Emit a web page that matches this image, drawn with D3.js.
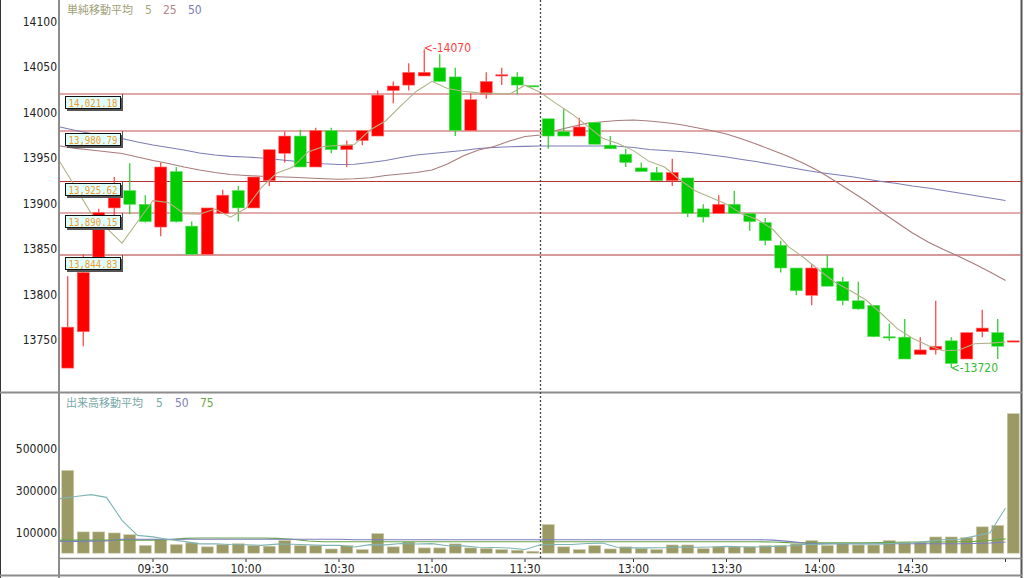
<!DOCTYPE html>
<html><head><meta charset="utf-8">
<script src="https://cdn.jsdelivr.net/npm/d3@7"></script>
<style>body{margin:0;background:#fff}svg{display:block}</style>
</head><body>
<svg id="c" width="1024" height="578"></svg>
<script>
// ---------- data ----------
const slots = ["09:00","09:05","09:10","09:15","09:20","09:25","09:30","09:35","09:40","09:45","09:50","09:55",
"10:00","10:05","10:10","10:15","10:20","10:25","10:30","10:35","10:40","10:45","10:50","10:55",
"11:00","11:05","11:10","11:15","11:20","11:25","11:30",
"12:30","12:35","12:40","12:45","12:50","12:55",
"13:00","13:05","13:10","13:15","13:20","13:25","13:30","13:35","13:40","13:45","13:50","13:55",
"14:00","14:05","14:10","14:15","14:20","14:25","14:30","14:35","14:40","14:45","14:50","14:55","15:00"];

const open  = [13720,13760,13842,13896,13915,13900,13875,13936,13876,13845,13890,13915,13896,13926,13956,13975,13941,13981,13960,13970,13975,14025,14031,14041,14050,14040,13981,14021,14042,14040,14030.4,
13994,13980,13975,13990,13965,13955,13940,13935,13926,13929,13895,13890,13900,13890,13880,13855,13830,13800,13830,13815,13794,13789,13754.5,13754,13735,13740,13750,13730,13760,13759,13749.6];
const high  = [13821,13845,13895,13930,13945,13910,13946,13941,13881,13896,13916,13920,13930,13960,13980,13982,13984,13984,13970,13981,14025,14035,14055,14070,14065,14050,14022,14045,14050,14045,14030.4,
13994,14005,13995,13990,13975,13961,13946,13941,13950,13929,13900,13910,13915,13890,13885,13860,13830,13834,13844,13820,13815,13789,13769,13774,13754,13794,13754,13759,13784,13774,13750];
const low   = [13720,13744,13842,13883,13889,13880,13865,13880,13845,13845,13890,13881,13896,13920,13946,13941,13941,13956,13941,13965,13975,14011,14025,14041,14035,13975,13981,14016,14031,14021,14030,
13961,13975,13975,13966,13961,13941,13936,13926,13920,13886,13880,13890,13890,13871,13855,13825,13800,13789,13810,13789,13784,13754,13750,13730,13735,13735,13720,13730,13754,13730,13749.6];
const close = [13765,13825,13891,13907,13900,13881,13941,13881,13845,13896,13910,13896,13930,13960,13975,13941,13981,13960,13965,13981,14020,14030,14045,14045,14035,13981,14015,14035,14042.4,14031,14030,
13975,13975,13985,13966,13961,13946,13936,13926,13935,13890,13886,13900,13890,13881,13860,13830,13805,13830,13810,13794,13785,13754.5,13754,13730,13740,13744,13725,13759,13764,13744,13750];

const ma5  = [13946.5,13918.5,13890.4,13874,13857.4,13880.8,13904,13902,13889.8,13889,13894.8,13885.8,13895.6,13918.5,13934.3,13940.6,13957.6,13963.6,13964.6,13965.8,13981.7,13991.6,14008.5,14024.3,14035.1,14027.3,14024.3,14022.5,14021.9,14021.1,14030.9,
14022.9,14010.9,13999.6,13986.5,13972.7,13966.9,13959,13947.2,13941,13926.7,13914.7,13907.4,13900.2,13889.4,13883.3,13872.3,13853.4,13841.3,13827.3,13814.3,13805,13794.8,13779.7,13763.6,13752.8,13744.8,13739,13739.9,13746.7,13747.5,13748.7];
const ma25 = [13964.1,13961.5,13959.7,13957.8,13955.8,13952,13948.1,13944.8,13941,13937.7,13934.9,13932.7,13931.6,13930.8,13930.2,13929.7,13928.9,13928.1,13927.5,13928,13929.2,13931.6,13933.3,13934.9,13937.7,13944.3,13953.1,13959.7,13963.5,13969.6,13974.5,
13976.2,13981.1,13985.3,13989,13990.7,13992.1,13992.6,13991.5,13989.9,13987.7,13984.4,13981.1,13977.3,13971.8,13965.7,13959.1,13952.5,13944.8,13936,13925.6,13914.6,13903.6,13891.5,13880,13868.5,13858.6,13850.3,13842.6,13834.4,13825.6,13816.3];
const ma50 = [13984.9,13981.1,13977.8,13975.1,13972.3,13968.5,13965.2,13962.4,13959.7,13956.4,13954.2,13952.7,13952,13950.9,13949.2,13947.6,13945.9,13944.5,13943.7,13944,13945.9,13948.1,13951.4,13954.2,13955.8,13957.5,13959.1,13961.3,13962.4,13963.2,13963.7,
13964.1,13964.1,13964.1,13964.1,13964.1,13963.8,13962.4,13960.2,13959.1,13958,13956.4,13954.2,13952,13949.2,13946.7,13943.7,13940.7,13937.7,13934.9,13932.7,13930.5,13927.8,13925.1,13922.9,13920.1,13917.9,13915.2,13912.4,13909.7,13906.9,13904.2];

const volume = [397000,105000,105000,100000,92000,41000,68000,45000,53000,34000,45000,49000,40000,37000,64000,40000,40000,24000,40000,21000,97000,34000,57000,29000,29000,48000,29000,26000,21000,18000,13000,
140000,34000,21000,40000,24000,34000,26000,21000,43000,43000,26000,34000,34000,34000,40000,40000,48000,64000,41000,49000,43000,43000,64000,56000,56000,81000,81000,78000,129000,136000,667000];
const volMa5  = [263000,273000,282000,269000,159800,88600,81200,69200,59800,48200,49000,45200,44200,41000,47000,46000,44200,41000,41600,33000,44400,43200,49800,47600,49200,39400,38400,32200,30600,28400,21400,
43600,45200,45200,49600,51800,30600,29000,29000,29600,33400,31800,33400,36000,34200,33600,36400,39200,45200,46600,48400,49000,48000,48000,51000,52400,60000,67600,70400,85000,101000,218200];
const volMa50 = [60000,60000,61000,62000,70000,70000,70000,70000,70000,70000,70000,70000,70000,70000,70000,70000,70000,70000,70000,68000,68000,68000,68000,68000,68000,68000,68000,68000,68000,68000,68000,
68000,68000,68000,68000,68000,68000,68000,68000,68000,68000,68000,68000,68000,68000,68000,66000,60000,52000,49000,49000,49000,49000,49000,49000,49000,49000,49000,49000,50000,52000,57000];
const volMa75 = [66000,66000,66000,66000,66000,66000,66000,68000,74000,76000,76000,76000,76000,76000,74000,70000,62000,58000,58000,58000,58000,58000,58000,58000,58000,58000,58000,58000,58000,58000,58000,
58000,58000,58000,58000,58000,58000,58000,58000,58000,58000,58000,58000,58000,58000,58000,57000,54000,53000,53000,53000,53000,53000,54000,56000,57000,57000,57000,58000,60000,64000,72000];

const levels = [14021.18, 13980.79, 13925.62, 13890.15, 13844.83];
const levelColors = ["#d98a8a","#d98a8a","#b83434","#d99090","#c87878"];
const priceTicks = [13750,13800,13850,13900,13950,14000,14050,14100];
const volTicks = [100000,300000,500000];
const xTickSlots = ["09:30","10:00","10:30","11:00","11:30","13:00","13:30","14:00","14:30","15:00"];
const xTickLabels = ["09:30","10:00","10:30","11:00","11:30","13:00","13:30","14:00","14:30",""];
const sessionBreak = "12:30";
const highMark = {slot:"10:55", value:14070, text:"<-14070"};
const lowMark  = {slot:"14:40", value:13720, text:"<-13720"};

// ---------- layout ----------
const svg = d3.select("#c");
const numFont = "'Liberation Sans Narrow','Arial Narrow','DejaVu Sans Condensed',sans-serif";
const cjkFont = "'Noto Sans CJK JP',sans-serif";
const x = d3.scaleBand().domain(slots).range([60,1021]).padding(0);
const bw = x.bandwidth();
const y = d3.scaleLinear().domain([13693.74,14124.51]).range([392,0]);
const yv = d3.scaleLinear().domain([0,700000]).range([554,554-700000*0.0002105]);
const cx = s => x(s) + bw/2;

svg.append("defs").append("clipPath").attr("id","mainClip")
  .append("rect").attr("x",60).attr("y",0).attr("width",961).attr("height",391);
svg.append("defs").append("clipPath").attr("id","volClip")
  .append("rect").attr("x",60).attr("y",394).attr("width",961).attr("height",163);

// frame
svg.append("line").attr("x1",0.5).attr("x2",0.5).attr("y1",0).attr("y2",578).attr("stroke","#333");
svg.append("line").attr("x1",59).attr("x2",59).attr("y1",0).attr("y2",578).attr("stroke","#8c8c8c").attr("stroke-width",2);
svg.append("line").attr("x1",1021.5).attr("x2",1021.5).attr("y1",0).attr("y2",578).attr("stroke","#555").attr("stroke-width",2);
svg.append("line").attr("x1",0).attr("x2",1022).attr("y1",392.5).attr("y2",392.5).attr("stroke","#8c8c8c").attr("stroke-width",2);
svg.append("line").attr("x1",59).attr("x2",1022).attr("y1",558.5).attr("y2",558.5).attr("stroke","#8c8c8c").attr("stroke-width",1.5);
svg.append("line").attr("x1",0).attr("x2",1022).attr("y1",575.5).attr("y2",575.5).attr("stroke","#8c8c8c").attr("stroke-width",2);

// y axis (price)
const ya = svg.append("g").attr("transform","translate(57,-1)")
  .call(d3.axisLeft(y).tickValues(priceTicks).tickSize(0).tickPadding(0).tickFormat(d3.format("d")));
ya.select(".domain").remove();
ya.selectAll("text").attr("font-family",numFont).attr("font-size",12).attr("fill","#222");

// y axis (volume)
const yva = svg.append("g").attr("transform","translate(57,0)")
  .call(d3.axisLeft(yv).tickValues(volTicks).tickSize(0).tickPadding(0).tickFormat(d3.format("d")));
yva.select(".domain").remove();
yva.selectAll("text").attr("font-family",numFont).attr("font-size",12).attr("fill","#222");

// x axis
const xa = svg.append("g").attr("transform","translate(0,559)")
  .call(d3.axisBottom(x).tickValues(xTickSlots).tickSize(3).tickPadding(2).tickFormat((d,i)=>xTickLabels[i]));
xa.select(".domain").remove();
xa.selectAll(".tick").attr("transform", d => `translate(${x(d)},0)`);
xa.selectAll("line").attr("stroke","#333");
xa.selectAll("text").attr("font-family",numFont).attr("font-size",12).attr("fill","#222").attr("y",5);

// level lines
const main = svg.append("g").attr("clip-path","url(#mainClip)");
main.selectAll("line.lvl").data(levels).join("line").attr("class","lvl")
  .attr("x1",60).attr("x2",1021)
  .attr("y1",(d,i)=> i===2 ? Math.round(y(d))+0.5 : Math.round(y(d)))
  .attr("y2",(d,i)=> i===2 ? Math.round(y(d))+0.5 : Math.round(y(d)))
  .attr("stroke",(d,i)=>levelColors[i]).attr("stroke-width",(d,i)=> i===2?1.2:1.6);

// session break
svg.append("line").attr("x1",x(sessionBreak)).attr("x2",x(sessionBreak)).attr("y1",0).attr("y2",558)
  .attr("stroke","#444").attr("stroke-width",1.3).attr("stroke-dasharray","2,2");

// moving averages (price)
const lineGen = arr => d3.line().x((d,i)=>x(slots[i])).y(d=>y(d))(arr);
main.append("path").attr("d",lineGen(ma50)).attr("fill","none").attr("stroke","#7c7cb4").attr("stroke-width",1.1);
main.append("path").attr("d",lineGen(ma25)).attr("fill","none").attr("stroke","#a87c7c").attr("stroke-width",1.1);

// candles
const up = i => close[i] >= open[i];
const cg = main.append("g");
cg.selectAll("line.wick").data(slots).join("line").attr("class","wick")
  .attr("x1",d=>cx(d)).attr("x2",d=>cx(d))
  .attr("y1",(d,i)=>y(high[i])).attr("y2",(d,i)=>y(low[i]))
  .attr("stroke",(d,i)=>up(i)?"#ff3a3a":"#22cc22").attr("stroke-width",1.2);
cg.selectAll("rect.body").data(slots).join("rect").attr("class","body")
  .attr("x",d=>x(d)+1.75).attr("width",12)
  .attr("y",(d,i)=>Math.min(y(open[i]),y(close[i])))
  .attr("height",(d,i)=>Math.max(1.3,Math.abs(y(open[i])-y(close[i]))))
  .attr("fill",(d,i)=>up(i)?"#ff0000":"#00cc00")
  .attr("stroke",(d,i)=>up(i)?"#ff7070":"#66dd66").attr("stroke-width",0.6);

main.append("path").attr("d",lineGen(ma5)).attr("fill","none").attr("stroke","#b2b28a").attr("stroke-width",1.1);

// level labels
const lg = svg.append("g");
levels.forEach(v=>{
  const ly = Math.round(y(v));
  lg.append("rect").attr("x",67).attr("y",ly+4).attr("width",56).attr("height",13).attr("fill","#555");
  lg.append("rect").attr("x",65.5).attr("y",ly+2.5).attr("width",55).attr("height",12).attr("fill","#dfffff").attr("stroke","#111").attr("stroke-width",1);
  lg.append("line").attr("x1",122.5).attr("x2",122.5).attr("y1",ly).attr("y2",ly+15).attr("stroke","#555").attr("stroke-width",1);
  lg.append("text").attr("x",68.5).attr("y",ly+12.5).text(d3.format(",.2f")(v))
    .attr("font-family","'DejaVu Sans Mono',monospace").attr("font-size",11)
    .attr("textLength",49).attr("lengthAdjust","spacingAndGlyphs").attr("fill","#f39a2a");
});

// high / low markers
svg.append("text").attr("x",cx(highMark.slot)-0.5).attr("y",y(highMark.value)-1).attr("dominant-baseline","middle")
  .attr("font-family",numFont).attr("font-size",12).attr("fill","#ff4040").text(highMark.text);
svg.append("text").attr("x",cx(lowMark.slot)-0.5).attr("y",y(lowMark.value)).attr("dominant-baseline","middle")
  .attr("font-family",numFont).attr("font-size",12).attr("fill","#33bb33").text(lowMark.text);

// legend main
const leg = svg.append("g").attr("font-family",cjkFont).attr("font-size",11);
leg.append("text").attr("x",67).attr("y",14).attr("fill","#a0a078").text("単純移動平均");
leg.append("text").attr("x",145).attr("y",14).attr("fill","#a8a878").attr("font-family",numFont).attr("font-size",12).text("5");
leg.append("text").attr("x",163).attr("y",14).attr("fill","#b08888").attr("font-family",numFont).attr("font-size",12).text("25");
leg.append("text").attr("x",188).attr("y",14).attr("fill","#7c7cb4").attr("font-family",numFont).attr("font-size",12).text("50");

// volume
const vg = svg.append("g").attr("clip-path","url(#volClip)");
vg.selectAll("rect.vol").data(slots).join("rect").attr("class","vol")
  .attr("x",d=>x(d)+1.75).attr("width",12)
  .attr("y",(d,i)=>yv(volume[i])).attr("height",(d,i)=>yv(0)-yv(volume[i]) - 0.8)
  .attr("fill","#9b9964").attr("stroke","#cfcdb0").attr("stroke-width",0.6);
const vline = arr => d3.line().x((d,i)=>x(slots[i])).y(d=>yv(d))(arr);
vg.append("path").attr("d",vline(volMa75)).attr("fill","none").attr("stroke","#66a844").attr("stroke-width",1.1);
vg.append("path").attr("d",vline(volMa50)).attr("fill","none").attr("stroke","#7c7cc0").attr("stroke-width",1.1);
vg.append("path").attr("d",vline(volMa5)).attr("fill","none").attr("stroke","#80b4b4").attr("stroke-width",1.1);

const vleg = svg.append("g").attr("font-family",cjkFont).attr("font-size",11);
vleg.append("text").attr("x",66).attr("y",407).attr("fill","#78a8a8").text("出来高移動平均");
vleg.append("text").attr("x",156).attr("y",407).attr("fill","#78a8a8").attr("font-family",numFont).attr("font-size",12).text("5");
vleg.append("text").attr("x",175).attr("y",407).attr("fill","#8080b8").attr("font-family",numFont).attr("font-size",12).text("50");
vleg.append("text").attr("x",200).attr("y",407).attr("fill","#6aa848").attr("font-family",numFont).attr("font-size",12).text("75");
</script>
</body></html>
